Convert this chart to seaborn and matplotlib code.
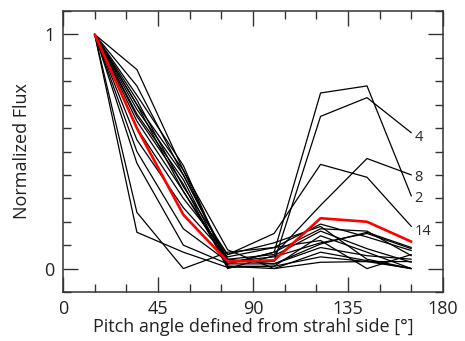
import numpy as np
import pandas as pd
import matplotlib
matplotlib.use("Agg")
import matplotlib.pyplot as plt
import seaborn as sns
from matplotlib.ticker import MultipleLocator, FixedLocator

# Pitch-angle bins (deg)
pitch = [15, 35, 57, 78, 100, 122, 144, 165]

# Individual normalized flux profiles (black)
line_A = [1, 0.85, 0.42, 0.02, 0.07, 0.75, 0.78, 0.31]
line_B = [1, 0.78, 0.40, 0.03, 0.03, 0.65, 0.73, 0.58]
line_C = [1, 0.72, 0.35, 0.06, 0.15, 0.445, 0.39, 0.18]
line_D = [1, 0.70, 0.33, 0.04, 0.06, 0.27, 0.47, 0.40]
line_E = [1, 0.155, 0.07, 0.005, 0.01, 0.05, 0.03, 0.0]
line_F = [1, 0.24, 0.0, 0.07, 0.09, 0.12, 0.0, 0.06]
line_G = [1, 0.45, 0.10, 0.02, 0.02, 0.105, 0.155, 0.09]
line_H = [1, 0.50, 0.17, 0.03, 0.05, 0.11, 0.15, 0.085]
line_I = [1, 0.55, 0.26, 0.05, 0.09, 0.19, 0.135, 0.077]
line_J = [1, 0.60, 0.30, 0.06, 0.11, 0.18, 0.04, 0.0]
line_K = [1, 0.63, 0.33, 0.02, 0.07, 0.17, 0.16, 0.055]
line_L = [1, 0.65, 0.36, 0.00, 0.055, 0.16, 0.085, 0.027]
line_M = [1, 0.66, 0.38, 0.01, 0.01, 0.14, 0.07, 0.0]
line_N = [1, 0.68, 0.40, 0.04, 0.02, 0.09, 0.055, 0.04]
line_O = [1, 0.70, 0.42, 0.08, 0.00, 0.07, 0.034, 0.0]
line_P = [1, 0.74, 0.44, 0.01, 0.00, 0.027, 0.03, 0.03]

# Average profile (red)
mean_line = [1, 0.60, 0.23, 0.03, 0.035, 0.215, 0.20, 0.115]

# Event labels at the right end
event_labels = ["4", "8", "2", "14"]
event_label_y = [0.56, 0.39, 0.30, 0.16]

x_ticks = [0, 45, 90, 135, 180]
y_ticks = [0, 1]

black_lines = [line_A, line_B, line_C, line_D, line_E, line_F, line_G, line_H,
               line_I, line_J, line_K, line_L, line_M, line_N, line_O, line_P]

rows = []
for i, vals in enumerate(black_lines):
    for x, v in zip(pitch, vals):
        rows.append({"pitch": x, "flux": v, "event": f"e{i}"})
df = pd.DataFrame(rows)
df_mean = pd.DataFrame({"pitch": pitch, "flux": mean_line})

sns.set_style("ticks")
plt.rcParams["font.family"] = ["Open Sans", "DejaVu Sans"]

fig = plt.figure(figsize=(4.65, 3.41), dpi=100)
ax = fig.add_axes([0.1355, 0.1437, 0.8172, 0.824])

sns.lineplot(data=df, x="pitch", y="flux", units="event", estimator=None,
             color="black", lw=0.9, ax=ax, legend=False)
sns.lineplot(data=df_mean, x="pitch", y="flux", color="red", lw=1.9, ax=ax,
             legend=False)

for lab, yv in zip(event_labels, event_label_y):
    ax.text(166.5, yv, lab, fontsize=10.5, ha="left", va="center")

ax.set_xlim(0, 180)
ax.set_ylim(-0.1, 1.1)
ax.xaxis.set_major_locator(FixedLocator(x_ticks))
ax.xaxis.set_minor_locator(MultipleLocator(15))
ax.yaxis.set_major_locator(FixedLocator(y_ticks))
ax.yaxis.set_minor_locator(MultipleLocator(0.1))
ax.tick_params(which="both", direction="in", top=True, right=True,
               labelsize=13, width=1.0, colors="#333333", labelcolor="#222222")
ax.tick_params(which="major", length=11, pad=6)
ax.tick_params(which="minor", length=5.5)
for s in ax.spines.values():
    s.set_linewidth(1.1)
    s.set_color("#333333")
ax.set_xlabel("Pitch angle defined from strahl side [°]", fontsize=13,
              labelpad=0, color="#222222")
ax.set_ylabel("Normalized Flux", fontsize=13, labelpad=10, color="#222222")

fig.savefig("out.png", dpi=100)
